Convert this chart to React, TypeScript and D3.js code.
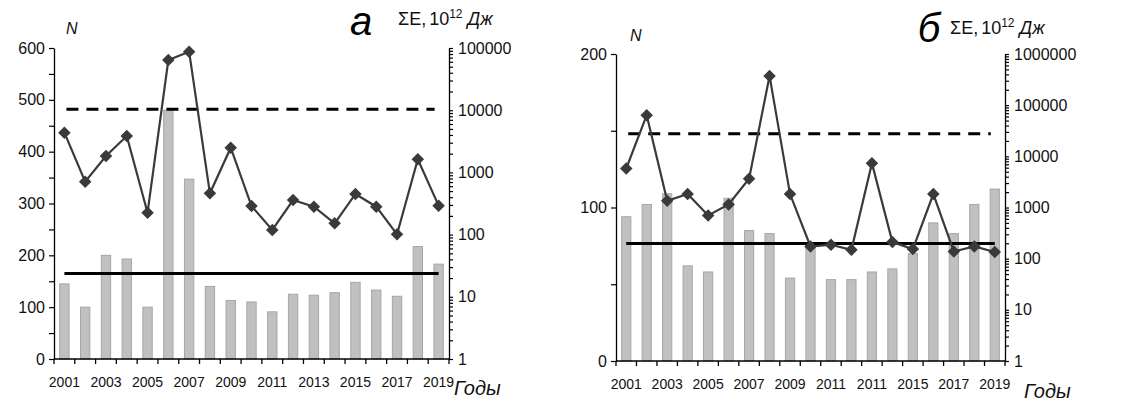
import React, { useEffect, useRef } from "react";
import * as d3 from "d3";

const years = ["2001","2002","2003","2004","2005","2006","2007","2008","2009","2010","2011","2012","2013","2014","2015","2016","2017","2018","2019"];
const yearLabelsA = ["2001","","2003","","2005","","2007","","2009","","2011","","2013","","2015","","2017","","2019"];
const yearLabelsB = ["2001","","2003","","2005","","2007","","2009","","2011","","2011","","2015","","2017","","2019"];

const countA = [145,100,200,193,100,480,347,140,113,110,91,125,123,128,148,133,121,217,183];
const energyA = [4350,710,1835,3850,225,64000,87300,461,2495,288,119,360,281,152,450,281,101,1625,292];
const dashedA = 482;
const solidA = 165;

const countB = [94,102,109,62,58,106,85,83,54,75,53,53,58,60,70,90,83,102,112];
const energyB = [5780,63800,1350,1830,698,1145,3640,373000,1830,173,187,149,7360,211,154,1830,138,173,135];
const dashedB = 148;
const solidB = 76.6;

const leftTicksA = [0,50,100,150,200,250,300,350,400,450,500,550,600];
const leftTicksB = [0,50,100,150,200];

type PanelCfg = {
  x0: number; x1: number; yTop: number; yBot: number;
  nMax: number; eMax: number; leftTicks: number[]; labelStep: number;
  counts: number[]; energies: number[]; dashed: number; solid: number;
  yearLabels: string[]; letter: string; letterX: number; letterY: number;
  nX: number; nY: number; sigX: number; sigY: number; godyX: number; godyY: number;
};

const FONT = "'Liberation Sans', Arial, sans-serif";

function drawPanel(svg: d3.Selection<SVGSVGElement, unknown, null, undefined>, c: PanelCfg) {
  const g = svg.append("g");
  const x = d3.scaleBand<string>().domain(years).range([c.x0, c.x1]).paddingInner(0.55).paddingOuter(0.275);
  const xc = (i: number) => (x(years[i]) as number) + x.bandwidth() / 2;
  const yN = d3.scaleLinear().domain([0, c.nMax]).range([c.yBot, c.yTop]);
  const yE = d3.scaleLog().domain([1, c.eMax]).range([c.yBot, c.yTop]);

  // bars
  g.selectAll("rect.bar").data(c.counts).enter().append("rect")
    .attr("x", (_, i) => x(years[i]) as number)
    .attr("width", x.bandwidth())
    .attr("y", d => yN(d))
    .attr("height", d => c.yBot - yN(d))
    .attr("fill", "#c0c0c0").attr("stroke", "#a6a6a6").attr("stroke-width", 1);

  // threshold lines
  g.append("line").attr("x1", xc(0)).attr("x2", xc(years.length - 1))
    .attr("y1", yN(c.solid)).attr("y2", yN(c.solid))
    .attr("stroke", "#000").attr("stroke-width", 3);
  g.append("line").attr("x1", xc(0) + 2).attr("x2", xc(years.length - 1) - 4)
    .attr("y1", yN(c.dashed)).attr("y2", yN(c.dashed))
    .attr("stroke", "#000").attr("stroke-width", 3).attr("stroke-dasharray", "12,8");

  // energy line
  const line = d3.line<number>().x((_, i) => xc(i)).y(d => yE(d));
  g.append("path").datum(c.energies).attr("d", line).attr("fill", "none")
    .attr("stroke", "#3a3a3a").attr("stroke-width", 2.2);
  const sym = d3.symbol().type(d3.symbolDiamond2).size(100);
  g.selectAll("path.pt").data(c.energies).enter().append("path")
    .attr("transform", (d, i) => `translate(${xc(i)},${yE(d)})`)
    .attr("d", sym as any).attr("fill", "#3a3a3a");

  // left axis
  const la = g.append("g").attr("transform", `translate(${c.x0},0)`)
    .call(d3.axisLeft(yN).tickValues(c.leftTicks).tickSize(5).tickSizeOuter(0)
      .tickFormat((d: any) => (d % c.labelStep === 0 ? String(d) : "")));
  // right log axis
  const logTicks: number[] = [];
  for (let p = 1; p <= c.eMax; p *= 10) {
    for (let m = 1; m < 10; m++) { const v = m * p; if (v <= c.eMax) logTicks.push(v); }
  }
  const ra = g.append("g").attr("transform", `translate(${c.x1},0)`)
    .call(d3.axisRight(yE).tickValues(logTicks).tickSize(4).tickSizeOuter(0)
      .tickFormat((d: any) => (Math.abs(Math.log10(d) - Math.round(Math.log10(d))) < 1e-9 ? String(Math.round(d)) : "")));
  // bottom axis
  const ba = g.append("g");
  ba.append("line").attr("x1", c.x0).attr("x2", c.x1).attr("y1", c.yBot).attr("y2", c.yBot).attr("stroke", "#000").attr("stroke-width", 1.3);
  const bounds = d3.range(years.length + 1).map(i => c.x0 + i * x.step());
  ba.selectAll("line.t").data(bounds).enter().append("line")
    .attr("x1", d => d).attr("x2", d => d).attr("y1", c.yBot).attr("y2", c.yBot + 5)
    .attr("stroke", "#000").attr("stroke-width", 1.3);
  ba.selectAll("text").data(c.yearLabels).enter().append("text")
    .attr("x", (_, i) => xc(i)).attr("y", c.yBot + 28)
    .attr("text-anchor", "middle").attr("font-family", FONT).attr("font-size", 14).attr("fill", "#111")
    .text(d => d);

  [la, ra].forEach(a => {
    a.selectAll("path.domain").attr("stroke", "#000").attr("stroke-width", 1.3);
    a.selectAll(".tick line").attr("stroke", "#000").attr("stroke-width", 1.2);
    a.selectAll(".tick text").attr("font-family", FONT).attr("font-size", 16).attr("fill", "#111");
  });
  la.selectAll(".tick text").attr("x", -9);
  ra.selectAll(".tick text").attr("x", 9);

  // titles
  g.append("text").attr("x", c.nX).attr("y", c.nY).attr("font-family", FONT).attr("font-style", "italic")
    .attr("font-size", 16).attr("fill", "#111").text("N");
  g.append("text").attr("x", c.letterX).attr("y", c.letterY).attr("font-family", FONT).attr("font-style", "italic")
    .attr("font-size", 40).attr("text-anchor", "middle").attr("fill", "#000").text(c.letter);
  const st = g.append("text").attr("x", c.sigX).attr("y", c.sigY).attr("font-family", FONT)
    .attr("font-size", 18).attr("fill", "#111");
  st.append("tspan").text("ΣE,");
  st.append("tspan").attr("dx", 3).text("10");
  st.append("tspan").attr("font-size", 12).attr("dy", -7).text("12");
  st.append("tspan").attr("dy", 7).attr("font-style", "italic").text(" Дж");
  g.append("text").attr("x", c.godyX).attr("y", c.godyY).attr("font-family", FONT).attr("font-style", "italic")
    .attr("font-size", 20).attr("fill", "#111").text("Годы");
}

export default function App() {
  const ref = useRef<SVGSVGElement>(null);
  useEffect(() => {
    const svg = d3.select(ref.current as SVGSVGElement);
    svg.selectAll("*").remove();
    drawPanel(svg, {
      x0: 54, x1: 449, yTop: 48, yBot: 359, nMax: 600, eMax: 100000,
      leftTicks: leftTicksA, labelStep: 100, counts: countA, energies: energyA,
      dashed: dashedA, solid: solidA, yearLabels: yearLabelsA,
      letter: "а", letterX: 361, letterY: 35, nX: 66, nY: 34, sigX: 398, sigY: 25,
      godyX: 454, godyY: 395,
    });
    drawPanel(svg, {
      x0: 616, x1: 1005, yTop: 54, yBot: 361, nMax: 200, eMax: 1000000,
      leftTicks: leftTicksB, labelStep: 100, counts: countB, energies: energyB,
      dashed: dashedB, solid: solidB, yearLabels: yearLabelsB,
      letter: "б", letterX: 929, letterY: 42, nX: 630, nY: 41, sigX: 950, sigY: 34,
      godyX: 1024, godyY: 398,
    });
  }, []);
  return (
    <svg ref={ref} width={1131} height={403}
      style={{ position: "absolute", left: 0, top: 0, background: "#fff", display: "block" }} />
  );
}
